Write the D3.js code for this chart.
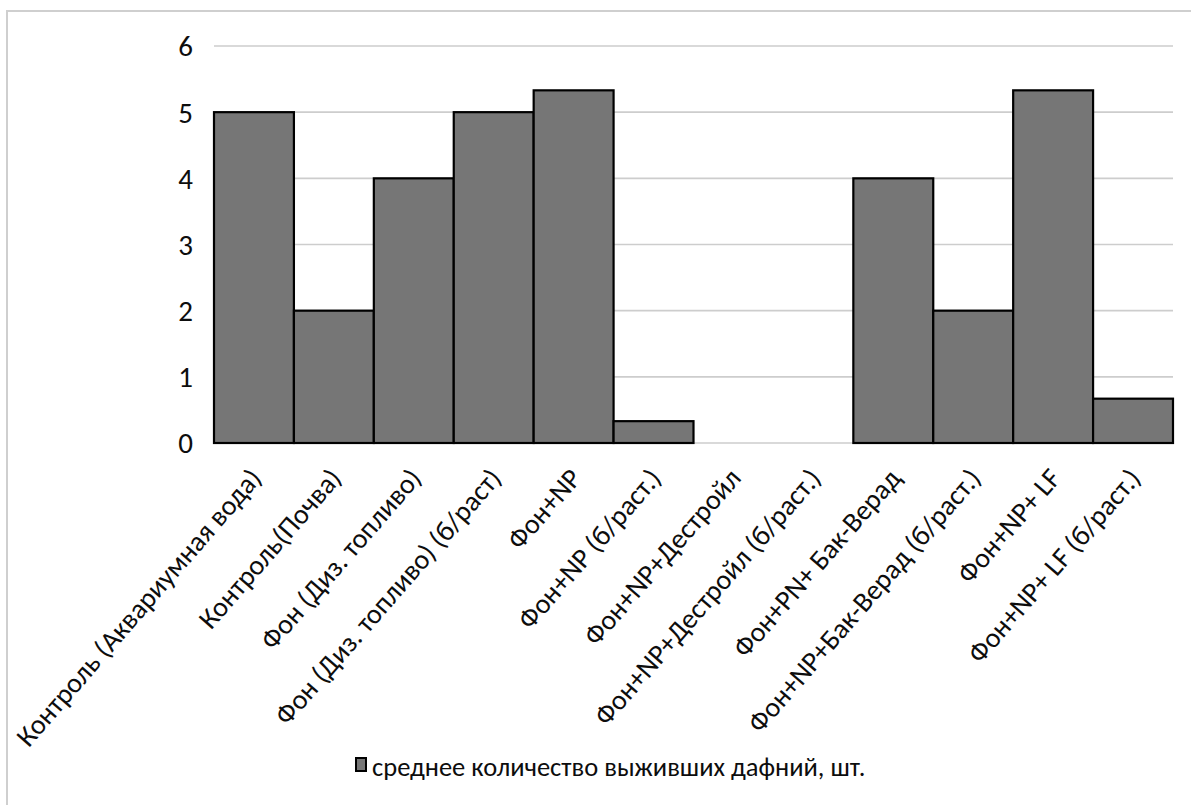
<!DOCTYPE html>
<html>
<head>
<meta charset="utf-8">
<script src="https://cdn.jsdelivr.net/npm/d3@7"></script>
<style>
  html, body { margin: 0; padding: 0; background: #fff; }
  svg { display: block; }
  text { font-family: Carlito, "Open Sans", "Noto Sans", sans-serif; fill: #0d0d0d; }
</style>
</head>
<body>
<svg id="chart" width="1191" height="805"></svg>
<script>
// Categories (experiment variants)
const categories = [
  "Контроль (Аквариумная вода)",
  "Контроль(Почва)",
  "Фон (Диз. топливо)",
  "Фон (Диз. топливо) (б/раст)",
  "Фон+NP",
  "Фон+NP (б/раст.)",
  "Фон+NP+Дестройл",
  "Фон+NP+Дестройл (б/раст.)",
  "Фон+PN+ Бак-Верад",
  "Фон+NP+Бак-Верад (б/раст.)",
  "Фон+NP+ LF",
  "Фон+NP+ LF (б/раст.)"
];
// Mean number of surviving daphnia
const survivors = [5, 2, 4, 5, 5.33, 0.33, 0, 0, 4, 2, 5.33, 0.67];
const yTicks = [0, 1, 2, 3, 4, 5, 6];
const seriesName = "среднее количество выживших дафний, шт.";

const FONT = 'Carlito, "Open Sans", "Noto Sans", sans-serif';
const svg = d3.select("#chart");
const plot = { left: 214, right: 1173, top: 46, bottom: 443 };

// Outer frame of the chart area
svg.append("path")
  .attr("d", `M7,${805 + 5} V11 H${1191 + 5}`)
  .attr("fill", "none")
  .attr("stroke", "#cfcfcf")
  .attr("stroke-width", 2);

const x = d3.scaleBand()
  .domain(categories)
  .range([plot.left, plot.right])
  .paddingInner(0)
  .paddingOuter(0);

const y = d3.scaleLinear()
  .domain([0, 6])
  .range([plot.bottom, plot.top]);

// Horizontal gridlines
svg.append("g")
  .selectAll("line")
  .data(yTicks)
  .join("line")
  .attr("x1", plot.left)
  .attr("x2", plot.right)
  .attr("y1", d => y(d))
  .attr("y2", d => y(d))
  .attr("stroke", "#cdcdcd")
  .attr("stroke-width", 1.6);

// Y axis labels
const yAxis = d3.axisLeft(y).tickValues(yTicks).tickSize(0).tickPadding(0).tickFormat(d3.format("d"));
svg.append("g")
  .attr("transform", `translate(193,0)`)
  .call(yAxis)
  .call(g => g.select(".domain").remove())
  .call(g => g.selectAll("text")
    .attr("font-size", 29)
    .attr("dy", "0.34em")
    .style("font-family", FONT)
    .attr("fill", "#0d0d0d"));

// Bars (zero values are not drawn)
svg.append("g")
  .selectAll("rect")
  .data(categories.map((c, i) => ({ c, v: survivors[i] })).filter(d => d.v > 0))
  .join("rect")
  .attr("x", d => x(d.c))
  .attr("y", d => y(d.v))
  .attr("width", x.bandwidth())
  .attr("height", d => y(0) - y(d.v))
  .attr("fill", "#767676")
  .attr("stroke", "#000")
  .attr("stroke-width", 2.2);

// Category labels, rotated diagonally
const xAxis = d3.axisBottom(x).tickSize(0).tickPadding(0);
svg.append("g")
  .attr("transform", `translate(0,${plot.bottom})`)
  .call(xAxis)
  .call(g => g.select(".domain").remove())
  .call(g => g.selectAll(".tick text")
    .attr("font-size", 28)
    .attr("text-anchor", "end")
    .attr("dy", 0)
    .attr("y", 0)
    .attr("transform", "translate(9,36) rotate(-49)")
    .style("font-family", FONT)
    .attr("fill", "#0d0d0d"));

// Legend
const legend = svg.append("g").attr("transform", "translate(356,758)");
legend.append("rect")
  .attr("x", 0).attr("y", 0)
  .attr("width", 10).attr("height", 13)
  .attr("fill", "#767676")
  .attr("stroke", "#000")
  .attr("stroke-width", 2);
legend.append("text")
  .attr("x", 16)
  .attr("y", 18)
  .attr("font-size", 26.5)
  .text(seriesName);
</script>
</body>
</html>
